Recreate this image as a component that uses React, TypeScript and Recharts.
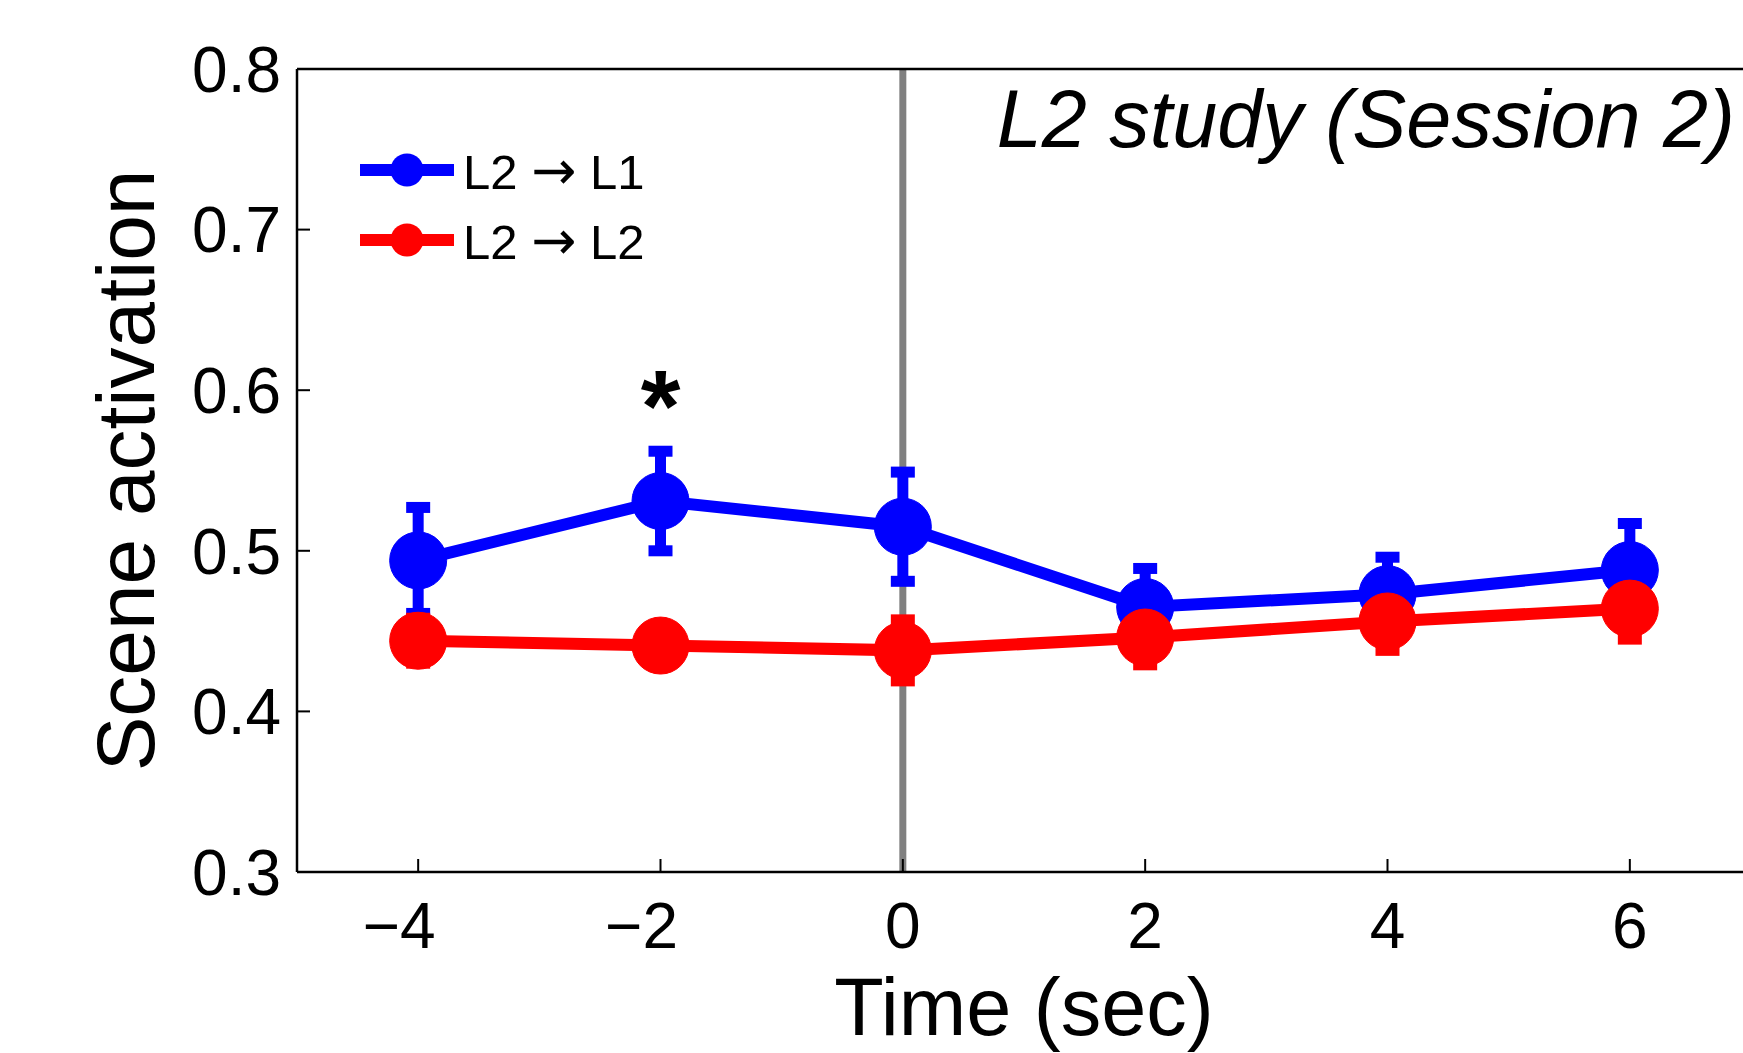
import React from 'react';
import {
  LineChart,
  Line,
  XAxis,
  YAxis,
  ErrorBar,
  ReferenceLine,
  Legend,
  LabelList,
} from 'recharts';

const FONT = '"Liberation Sans", Arial, Helvetica, sans-serif';
const ARROW_FONT = '"DejaVu Sans", "Noto Sans", sans-serif';

// ---- data ----
const times = [-4, -2, 0, 2, 4, 6];
const l2ToL1 = [0.494, 0.531, 0.515, 0.465, 0.473, 0.488];
const l2ToL1Err = [0.033, 0.031, 0.034, 0.024, 0.023, 0.029];
const l2ToL2 = [0.444, 0.441, 0.438, 0.446, 0.456, 0.464];
const l2ToL2Err = [0.014, 0.01, 0.019, 0.017, 0.018, 0.019];
const significance = ['', '*', '', '', '', ''];

const xTicks = [-4, -2, 0, 2, 4, 6];
const yTicks = [0.3, 0.4, 0.5, 0.6, 0.7, 0.8];
const xDomain: [number, number] = [-5, 7];
const yDomain: [number, number] = [0.3, 0.8];

const seriesNames = ['L2 \u2192 L1', 'L2 \u2192 L2'];
const seriesColors = ['#0000FF', '#FF0000'];
const titleText = 'L2 study (Session 2)';
const xLabelText = 'Time (sec)';
const yLabelText = 'Scene activation';

const data = times.map((t, i) => ({
  time: t,
  l1: l2ToL1[i],
  l1Err: l2ToL1Err[i],
  l2: l2ToL2[i],
  l2Err: l2ToL2Err[i],
  sig: significance[i],
}));

// ---- layout ----
const CHART_W = 1780;
const CHART_H = 1053;
const LEFT_AXIS_W = 297;
const RIGHT_AXIS_W = 20;
const TOP_AXIS_H = 20;
const BOTTOM_AXIS_H = 181;
const MARGIN = { top: 49, right: 9, bottom: 0, left: 0 };
const PLOT_LEFT = MARGIN.left + LEFT_AXIS_W;
const PLOT_RIGHT = CHART_W - MARGIN.right - RIGHT_AXIS_W;
const PLOT_TOP = MARGIN.top + TOP_AXIS_H;
const PLOT_BOTTOM = CHART_H - MARGIN.bottom - BOTTOM_AXIS_H;

const axisLineStyle = { stroke: '#000', strokeWidth: 2.5 };
const tickLineStyle = { stroke: '#000', strokeWidth: 2 };

const X_TICK_FS = 64;

const fmtX = (v: number) => (v < 0 ? `\u2212${Math.abs(v)}` : `${v}`);
const fmtY = (v: number) => v.toFixed(1);

const XTick = (props: any) => {
  const { x, y, payload } = props;
  const v = payload.value as number;
  return (
    <text
      x={x - (v < 0 ? 19 : 0)}
      y={y - 3}
      dy={0.71 * X_TICK_FS}
      textAnchor="middle"
      fontSize={X_TICK_FS}
      fontFamily={FONT}
      fill="#000"
    >
      {fmtX(v)}
    </text>
  );
};

const XTitle = () => (
  <text
    x={(PLOT_LEFT + PLOT_RIGHT) / 2}
    y={PLOT_BOTTOM + 163}
    textAnchor="middle"
    fontSize={81}
    fontFamily={FONT}
    fill="#000"
  >
    {xLabelText}
  </text>
);

const YTitle = () => {
  const cx = 154;
  const cy = (PLOT_TOP + PLOT_BOTTOM) / 2;
  return (
    <text
      x={cx}
      y={cy}
      transform={`rotate(-90, ${cx}, ${cy})`}
      textAnchor="middle"
      fontSize={82}
      fontFamily={FONT}
      fill="#000"
    >
      {yLabelText}
    </text>
  );
};

const PanelTitle = () => (
  <text
    x={PLOT_RIGHT - 16}
    y={PLOT_TOP + 78}
    textAnchor="end"
    fontSize={81}
    fontStyle="italic"
    fontFamily={FONT}
    fill="#000"
  >
    {titleText}
  </text>
);

const SigLabel = (props: any) => {
  const vb = props.viewBox || {};
  const x = props.x ?? vb.x;
  const y = props.y ?? vb.y;
  if (!props.value) return null;
  return (
    <text
      x={x}
      y={y - 60}
      textAnchor="middle"
      fontSize={102}
      fontWeight="bold"
      fontFamily={FONT}
      fill="#000"
    >
      {props.value}
    </text>
  );
};

const LegendName = ({ name }: { name: string }) => {
  const parts = name.split('\u2192');
  return (
    <span style={{ whiteSpace: 'nowrap' }}>
      {parts[0]}
      <span style={{ fontFamily: ARROW_FONT, fontSize: 54 }}>{'\u2192'}</span>
      {parts[1]}
    </span>
  );
};

const LegendContent = () => (
  <div style={{ fontFamily: FONT }}>
    {seriesNames.map((name, i) => (
      <div key={name} style={{ display: 'flex', alignItems: 'center', height: 70 }}>
        <svg width={94} height={40} style={{ display: 'block' }}>
          <line x1={0} y1={20} x2={94} y2={20} stroke={seriesColors[i]} strokeWidth={12} />
          <circle cx={47} cy={20} r={16.5} fill={seriesColors[i]} />
        </svg>
        <span
          style={{
            fontSize: 49,
            marginLeft: 9,
            color: '#000',
            lineHeight: 'normal',
            whiteSpace: 'nowrap',
          }}
        >
          <LegendName name={name} />
        </span>
      </div>
    ))}
  </div>
);

export default function App() {
  return (
    <div
      style={{
        position: 'absolute',
        left: 0,
        top: 0,
        width: 1743,
        height: 1053,
        overflow: 'hidden',
        background: '#fff',
        fontFamily: FONT,
      }}
    >
      <LineChart width={CHART_W} height={CHART_H} data={data} margin={MARGIN}>
        <XAxis
          xAxisId="bottom"
          dataKey="time"
          type="number"
          orientation="bottom"
          domain={xDomain}
          ticks={xTicks}
          interval={0}
          height={BOTTOM_AXIS_H}
          tickSize={-13}
          tickMargin={47}
          tickFormatter={fmtX}
          axisLine={axisLineStyle}
          tickLine={tickLineStyle}
          tick={XTick}
          label={XTitle}
        />
        <XAxis
          xAxisId="top"
          dataKey="time"
          type="number"
          orientation="top"
          domain={xDomain}
          ticks={xTicks}
          interval={0}
          height={TOP_AXIS_H}
          tickSize={-13}
          axisLine={axisLineStyle}
          tickLine={tickLineStyle}
          tick={false}
          label={PanelTitle}
        />
        <YAxis
          yAxisId="left"
          type="number"
          orientation="left"
          domain={yDomain}
          ticks={yTicks}
          interval={0}
          width={LEFT_AXIS_W}
          tickSize={-13}
          tickMargin={29}
          tickFormatter={fmtY}
          axisLine={axisLineStyle}
          tickLine={tickLineStyle}
          tick={{ fontSize: 64, fill: '#000', fontFamily: FONT }}
          label={YTitle}
        />
        <YAxis
          yAxisId="right"
          type="number"
          orientation="right"
          domain={yDomain}
          ticks={yTicks}
          interval={0}
          width={RIGHT_AXIS_W}
          tickSize={-13}
          axisLine={axisLineStyle}
          tickLine={tickLineStyle}
          tick={false}
        />
        <ReferenceLine
          x={0}
          xAxisId="bottom"
          yAxisId="left"
          stroke="#808080"
          strokeWidth={7}
        />
        <Line
          xAxisId="bottom"
          yAxisId="left"
          type="linear"
          dataKey="l1"
          name={seriesNames[0]}
          stroke={seriesColors[0]}
          strokeWidth={12}
          dot={{ r: 28.5, fill: seriesColors[0], stroke: seriesColors[0], strokeWidth: 1 }}
          activeDot={false}
          isAnimationActive={false}
        >
          <ErrorBar
            dataKey="l1Err"
            direction="y"
            width={12}
            strokeWidth={11}
            stroke={seriesColors[0]}
            isAnimationActive={false}
          />
          <LabelList dataKey="sig" content={SigLabel} />
        </Line>
        <Line
          xAxisId="bottom"
          yAxisId="left"
          type="linear"
          dataKey="l2"
          name={seriesNames[1]}
          stroke={seriesColors[1]}
          strokeWidth={12}
          dot={{ r: 28.5, fill: seriesColors[1], stroke: seriesColors[1], strokeWidth: 1 }}
          activeDot={false}
          isAnimationActive={false}
        >
          <ErrorBar
            dataKey="l2Err"
            direction="y"
            width={12}
            strokeWidth={11}
            stroke={seriesColors[1]}
            isAnimationActive={false}
          />
        </Line>
        <Legend
          content={LegendContent}
          layout="vertical"
          align="center"
          verticalAlign="middle"
          wrapperStyle={{ left: 360, top: 135, width: 'auto', height: 'auto' }}
        />
      </LineChart>
    </div>
  );
}
